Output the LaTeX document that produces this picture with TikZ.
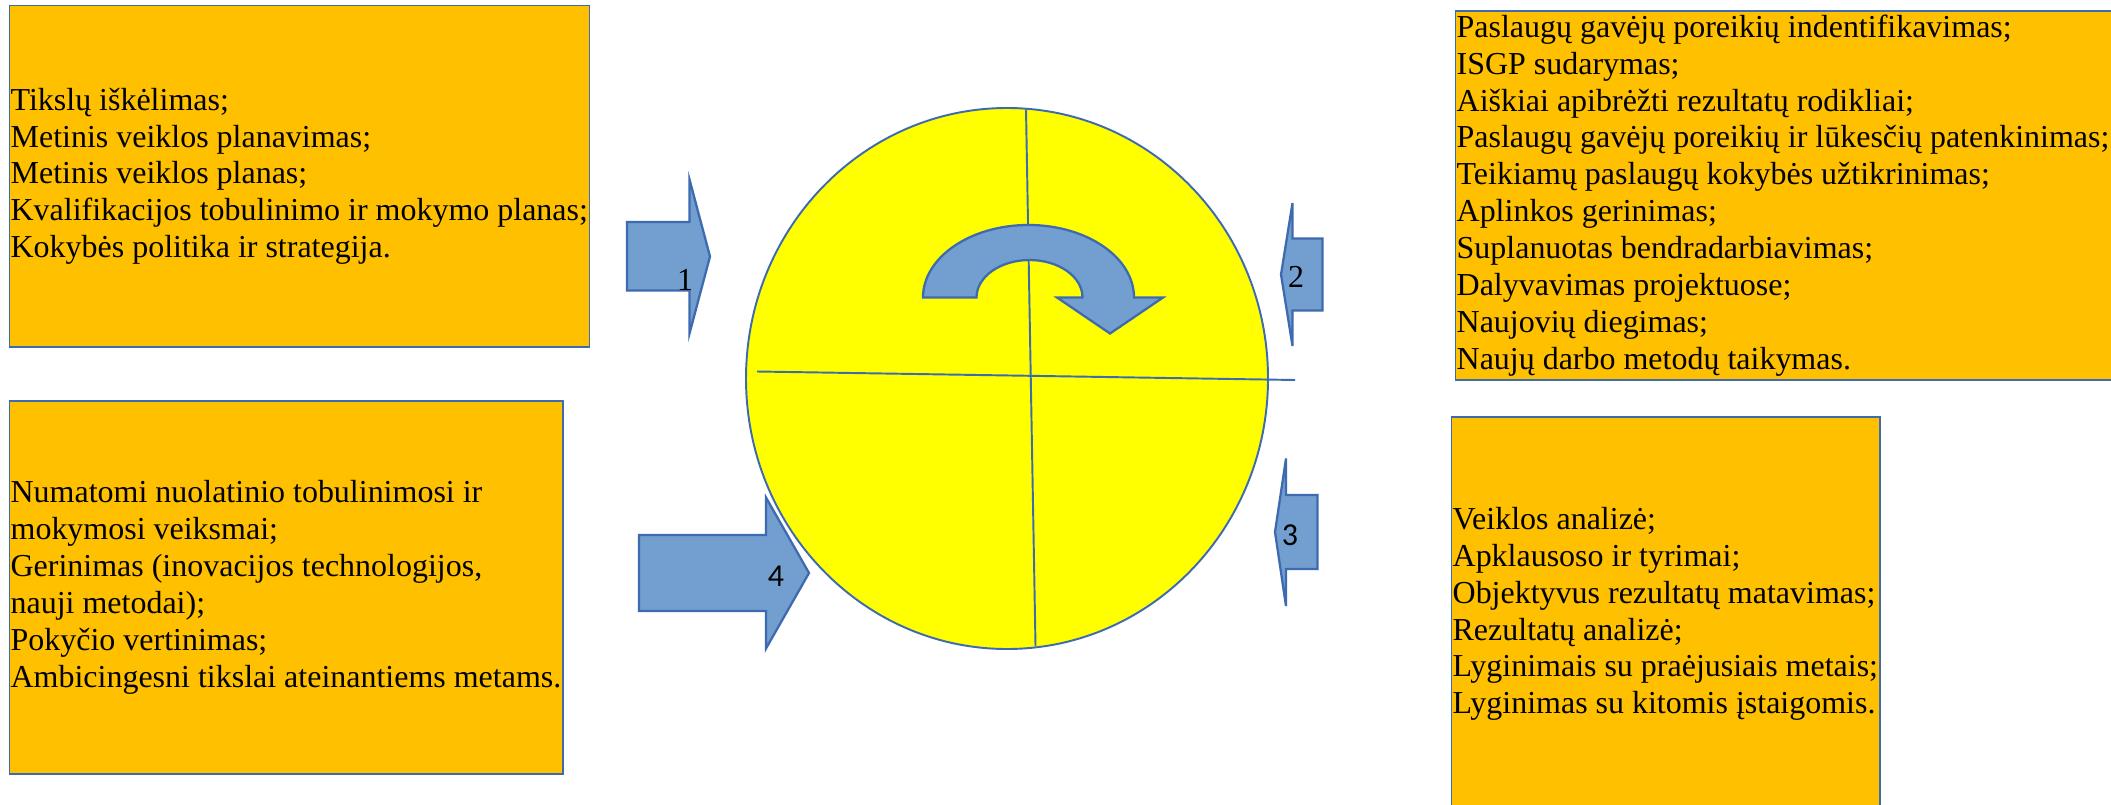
\documentclass[tikz,border=0pt]{standalone}
\usepackage{fontspec}
\setmainfont{Liberation Serif}
\newfontfamily\numfont{Carlito}
\usetikzlibrary{fit}
\definecolor{cycleGold}{RGB}{255, 192, 0}
\definecolor{cycleBlue}{RGB}{62, 106, 176}
\definecolor{cycleLightBlue}{RGB}{114, 159, 207}
\definecolor{cycleYellow}{RGB}{255, 255, 0}

\begin{document}
\begin{tikzpicture}[
  x=0.02cm, y=-0.02cm,
  listbox/.style={
    draw=cycleBlue,
    fill=cycleGold,
    line width=1.1pt,
    inner sep=0pt
  },
  listtext/.style={
    anchor=west,
    align=left,
    inner sep=0pt,
    font=\fontsize{18.2}{21}\selectfont
  },
  blockarrow/.style={draw=cycleBlue,fill=cycleLightBlue,line width=1.3pt},
  steplabel/.style={inner sep=0pt,font=\fontsize{18.2}{21}\selectfont}
]
  \useasboundingbox[fill=white] (0,0) rectangle (2111,804);
  \clip (0,0) rectangle (2111,804);

  % four lists round the cycle
  \node[listbox,fit={(9.5,5.5) (589.5,347)}] (plan) {};
  \node[listbox,fit={(1455.5,11) (2140,380)}] (doit) {};
  \node[listbox,fit={(1451.5,417) (1880,811)}] (check) {};
  \node[listbox,fit={(9.5,401) (563,774)}] (act) {};

  \node[listtext] (plantxt) at ([xshift=1pt]plan.west)
    {Tikslų iškėlimas;\\Metinis veiklos planavimas;\\Metinis veiklos planas;\\
     Kvalifikacijos tobulinimo ir mokymo planas;\\Kokybės politika ir strategija.};
  \node[listtext] (doittxt) at ([xshift=1pt]doit.west)
    {Paslaugų gavėjų poreikių indentifikavimas;\\ISGP sudarymas;\\
     Aiškiai apibrėžti rezultatų rodikliai;\\
     Paslaugų gavėjų poreikių ir lūkesčių patenkinimas;\\
     Teikiamų paslaugų kokybės užtikrinimas;\\Aplinkos gerinimas;\\
     Suplanuotas bendradarbiavimas;\\Dalyvavimas projektuose;\\
     Naujovių diegimas;\\Naujų darbo metodų taikymas.};
  \node[listtext] (checktxt) at ([xshift=1pt]check.west)
    {Veiklos analizė;\\Apklausoso ir tyrimai;\\Objektyvus rezultatų matavimas;\\
     Rezultatų analizė;\\Lyginimais su praėjusiais metais;\\
     Lyginimas su kitomis įstaigomis.};
  \node[listtext] (acttxt) at ([xshift=1pt]act.west)
    {Numatomi nuolatinio tobulinimosi ir\\mokymosi veiksmai;\\
     Gerinimas (inovacijos technologijos,\\nauji metodai);\\
     Pokyčio vertinimas;\\Ambicingesni tikslai ateinantiems metams.};

  % the wheel
  \coordinate (hub) at (1007,378.5);
  \coordinate (ntop) at (1026,109.5);
  \coordinate (nbot) at (1035.5,646);
  \coordinate (wleft) at (757,371.5);
  \coordinate (wright) at (1295,380);
  \draw[draw=cycleBlue,fill=cycleYellow,line width=1.1pt]
    (hub) ellipse [x radius=261, y radius=270.5];
  \draw[cycleBlue,line width=1.1pt] (wleft) -- (wright);
  \draw[cycleBlue,line width=1.1pt] (ntop) -- (nbot);

  \draw[blockarrow] (976.5,297.5) -- (923,297.5)
    arc[start angle=180, end angle=360, x radius=105.5, y radius=72.5]
    -- (1163,297.5) -- (1110,333.5) -- (1057,297.5) -- (1082.5,297.5)
    arc[start angle=360, end angle=180, x radius=53, y radius=37.5]
    -- cycle;

  % block arrows with step numbers
  \draw[blockarrow] (627,222) -- (689.5,222) -- (689.5,179.5) -- (710,256.5)
    -- (689.5,333.5) -- (689.5,290.5) -- (627,290.5) -- cycle;
  \draw[blockarrow] (1322.5,238.5) -- (1292.5,238.5) -- (1292.5,203) -- (1281,274.5)
    -- (1292.5,346) -- (1292.5,310.5) -- (1322.5,310.5) -- cycle;
  \draw[blockarrow] (1317.5,495) -- (1286,495) -- (1286,458.5) -- (1275,532)
    -- (1286,606) -- (1286,569) -- (1317.5,569) -- cycle;
  \draw[blockarrow] (639,535) -- (766,535) -- (766,497.5) -- (809,573)
    -- (766,648.5) -- (766,611) -- (639,611) -- cycle;

  \node[steplabel] (n1) at (685,280) {1};
  \node[steplabel] (n2) at (1296,277) {2};
  \node[steplabel,font=\fontsize{18.2}{21}\numfont] (n3) at (1290,535) {3};
  \node[steplabel,font=\fontsize{18.2}{21}\numfont] (n4) at (776,576) {4};
\end{tikzpicture}
\end{document}
